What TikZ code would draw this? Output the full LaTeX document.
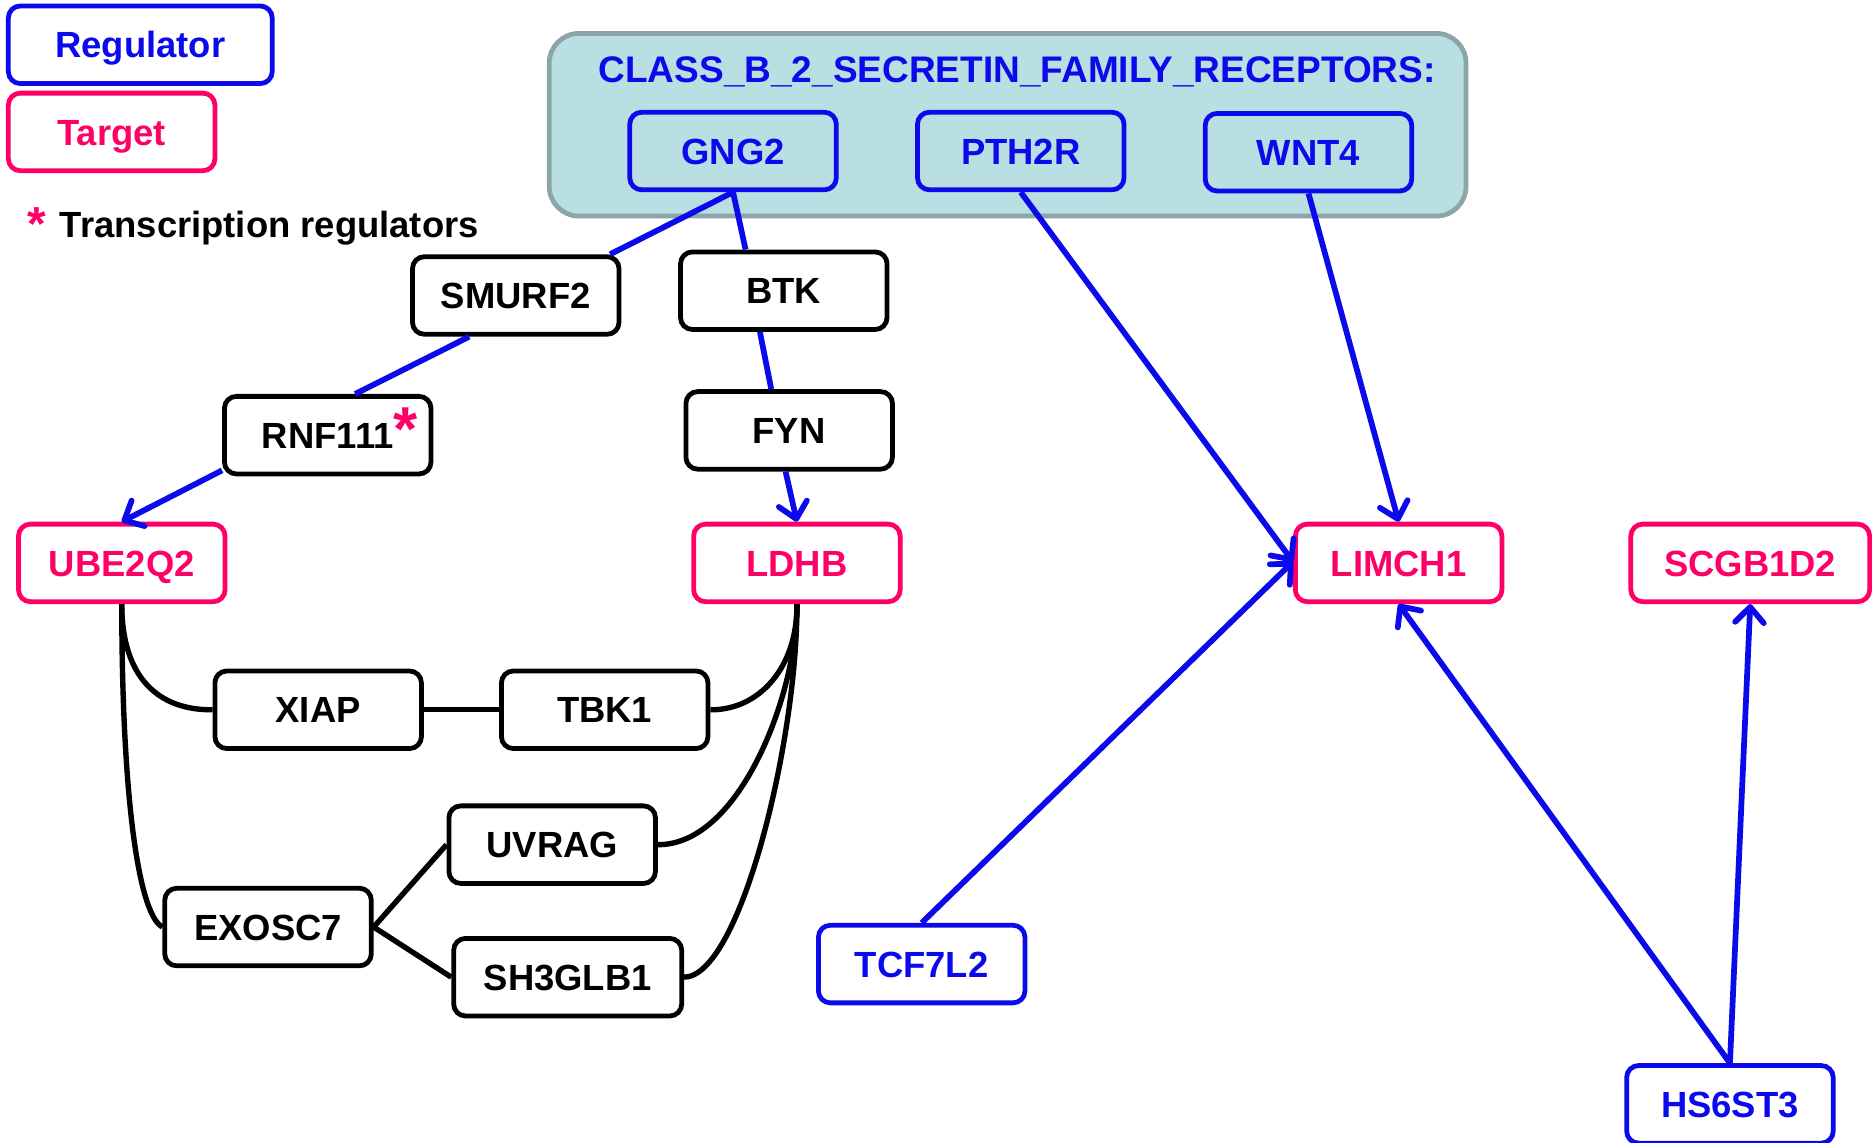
\documentclass[tikz,border=0pt]{standalone}
\usepackage{fontspec}
\setmainfont{Liberation Sans}
\usetikzlibrary{arrows.meta,calc}
\definecolor{rblue}{RGB}{10,10,235}
\definecolor{tpink}{RGB}{255,0,102}
\definecolor{grpfill}{RGB}{185,223,226}
\definecolor{grpdraw}{RGB}{140,165,168}
\begin{document}
\begin{tikzpicture}[x=1pt,y=-1pt,
  box/.style={draw, rounded corners=10pt, line width=4pt, minimum width=173pt, minimum height=65pt, inner sep=0pt, text height=22pt, text depth=0pt, font=\fontsize{30.5}{36}\selectfont\bfseries},
  reg/.style={box, draw=rblue, text=rblue},
  tgt/.style={box, draw=tpink, text=tpink, fill=white},
  mid/.style={box, draw=black, text=black, fill=white},
  act/.style={rblue, line width=4.8pt, -{Straight Barb[round,length=13pt,width=24pt,line width=4.8pt]}},
  link/.style={rblue, line width=4.8pt},
  ppi/.style={black, line width=4.5pt}]
\useasboundingbox (0,0) rectangle (1568,957);
% legend
\node[reg, minimum width=221pt] (leg1) at (117.5,37.5) {Regulator};
\node[tgt] (leg2) at (93.5,110.5) {Target};
\node[text=tpink, font=\fontsize{40}{40}\selectfont\bfseries, inner sep=0pt] (ast) at (31,188) {*};
\node[anchor=base west, inner sep=0pt, font=\fontsize{30.5}{36}\selectfont\bfseries] (legtxt) at (50,199) {Transcription regulators};
% group
\node[draw=grpdraw, fill=grpfill, line width=4pt, rounded corners=25pt, minimum width=768pt, minimum height=153pt] (grp) at (844,104.5) {};
\node[text=rblue, inner sep=0pt, text height=22pt, text depth=0pt, font=\fontsize{31}{36}\selectfont\bfseries] (ttl) at (852,58) {CLASS\_B\_2\_SECRETIN\_FAMILY\_RECEPTORS:};
\node[reg] (gng2) at (614,126.5) {GNG2};
\node[reg] (pth2r) at (855,126.5) {PTH2R};
\node[reg] (wnt4) at (1096,127.5) {WNT4};
% intermediates
\node[mid] (smurf2) at (432,247.5) {SMURF2};
\node[mid] (btk) at (656.5,243.5) {BTK};
\node[mid] (rnf111) at (274.5,364.5) {RNF111\rlap{\raisebox{-2pt}{\color{tpink}\fontsize{52}{52}\selectfont *}}};
\node[mid] (fyn) at (661,360.5) {FYN};
% targets
\node[tgt] (ube2q2) at (102,471.5) {UBE2Q2};
\node[tgt] (ldhb) at (667.5,471.5) {LDHB};
\node[tgt] (limch1) at (1171.5,471.5) {LIMCH1};
\node[tgt, minimum width=200pt] (scgb1d2) at (1466,471.5) {SCGB1D2};
% ppi partners
\node[mid] (xiap) at (266.5,594.5) {XIAP};
\node[mid] (tbk1) at (506.5,594.5) {TBK1};
\node[mid] (uvrag) at (462.5,707.5) {UVRAG};
\node[mid] (exosc7) at (224.5,776.5) {EXOSC7};
\node[mid, minimum width=191pt] (sh3glb1) at (475.5,818.5) {SH3GLB1};
% other regulators
\node[reg, fill=white] (tcf7l2) at (772,807.5) {TCF7L2};
\node[reg, fill=white] (hs6st3) at (1449,925) {HS6ST3};
% regulatory paths
\draw[link] (gng2.south) -- ([xshift=79pt]smurf2.north);
\draw[link] ([xshift=-39pt]smurf2.south) -- ([xshift=23pt]rnf111.north);
\draw[act] ([yshift=5pt]rnf111.south west) -- (ube2q2.north);
\draw[link] (gng2.south) -- ([xshift=-32pt]btk.north);
\draw[link] ([xshift=-20pt]btk.south) -- ([xshift=-15pt]fyn.north);
\draw[act] ([xshift=-3pt]fyn.south) -- (ldhb.north);
\draw[act] (pth2r.south) -- ([yshift=1pt]limch1.west);
\draw[act] (wnt4.south) -- (limch1.north);
\draw[act] (tcf7l2.north) -- ([yshift=1pt]limch1.west);
\draw[act] (hs6st3.north) -- (limch1.south);
\draw[act] (hs6st3.north) -- (scgb1d2.south);
% interactions
\draw[ppi] (ube2q2.south) .. controls (102,570) and (135,595) .. (xiap.west);
\draw[ppi] (ube2q2.south) .. controls (102,660) and (115,765) .. (exosc7.west);
\draw[ppi] (xiap) -- (tbk1);
\draw[ppi] (tbk1.east) .. controls (635,595) and (668,560) .. (ldhb.south);
\draw[ppi] (uvrag.east) .. controls (620,708) and (668,580) .. (ldhb.south);
\draw[ppi] (sh3glb1.east) .. controls (620,818) and (668,620) .. (ldhb.south);
\draw[ppi] (exosc7.east) -- (uvrag.west);
\draw[ppi] (exosc7.east) -- (sh3glb1.west);
\end{tikzpicture}
\end{document}
